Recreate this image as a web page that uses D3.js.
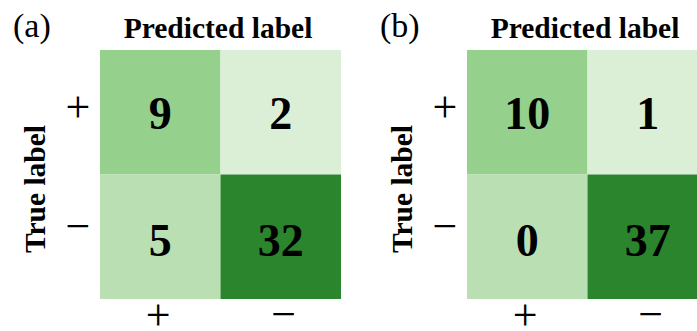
<!DOCTYPE html>
<html>
<head>
<meta charset="utf-8">
<script src="https://cdn.jsdelivr.net/npm/d3@7"></script>
<style>
  html, body { margin: 0; padding: 0; background: #fff; overflow: hidden; }
  svg { display: block; }
</style>
</head>
<body>
<script>
// Confusion matrices for two classifiers
const classes = ["+", "\u2212"];
const panelTags = ["(a)", "(b)"];
const countsA = [[9, 2], [5, 32]];
const countsB = [[10, 1], [0, 37]];
const xTitle = "Predicted label";
const yTitle = "True label";

// Cell shades, by row and column
const cellFill = [["#95d08c", "#dbefd7"], ["#b9dfb3", "#2b852c"]];

const W = 697, H = 331;
const svg = d3.select("body").append("svg")
  .attr("width", W).attr("height", H);

const serif = "'Liberation Serif', 'Times New Roman', serif";
const panels = [
  { tag: panelTags[0], counts: countsA, dx: 0 },
  { tag: panelTags[1], counts: countsB, dx: 367 }
];

panels.forEach(p => {
  const g = svg.append("g").attr("transform", `translate(${p.dx},0)`);
  const x = d3.scaleBand().domain(classes).range([100, 341]);
  const y = d3.scaleBand().domain(classes).range([50, 299]);

  const cells = [];
  classes.forEach((t, i) => classes.forEach((pr, j) =>
    cells.push({ t, pr, v: p.counts[i][j], fill: cellFill[i][j] })));

  g.selectAll("rect").data(cells).join("rect")
    .attr("x", d => x(d.pr)).attr("y", d => y(d.t))
    .attr("width", x.bandwidth()).attr("height", y.bandwidth())
    .attr("fill", d => d.fill);

  g.selectAll("text.val").data(cells).join("text")
    .attr("class", "val")
    .attr("x", d => x(d.pr) + x.bandwidth() / 2)
    .attr("y", d => y(d.t) + y.bandwidth() / 2 + (d.t === classes[0] ? 16.5 : 19.5))
    .attr("text-anchor", "middle")
    .attr("font-family", serif).attr("font-weight", "bold")
    .attr("font-size", 46).attr("fill", "#000")
    .text(d => d.v);

  // Axes: tick labels only, no domain lines or tick marks
  const xAxis = g.append("g").attr("transform", "translate(0,299)")
    .call(d3.axisBottom(x).tickSize(0).tickPadding(0));
  xAxis.select(".domain").remove();
  xAxis.selectAll("text")
    .attr("font-family", serif).attr("font-size", 44).attr("fill", "#000")
    .attr("dy", null).attr("y", (d, i) => i === 0 ? 31 : 30)
    .attr("dx", (d, i) => i === 0 ? -2 : 3);

  const yAxis = g.append("g").attr("transform", "translate(100,0)")
    .call(d3.axisLeft(y).tickSize(0).tickPadding(0));
  yAxis.select(".domain").remove();
  yAxis.selectAll("text")
    .attr("font-family", serif).attr("font-size", 44).attr("fill", "#000")
    .attr("text-anchor", "middle").attr("x", -22)
    .attr("dy", null).attr("y", (d, i) => i === 0 ? 9.5 : 4);

  g.append("text")
    .attr("x", 218).attr("y", 38)
    .attr("text-anchor", "middle")
    .attr("font-family", serif).attr("font-weight", "bold").attr("font-size", 29.5)
    .text(xTitle);

  g.append("text")
    .attr("transform", "translate(45,189) rotate(-90)")
    .attr("text-anchor", "middle")
    .attr("font-family", serif).attr("font-weight", "bold").attr("font-size", 29.5)
    .text(yTitle);

  g.append("text")
    .attr("x", 13).attr("y", 37)
    .attr("font-family", serif).attr("font-size", 34)
    .text(p.tag);
});
</script>
</body>
</html>
